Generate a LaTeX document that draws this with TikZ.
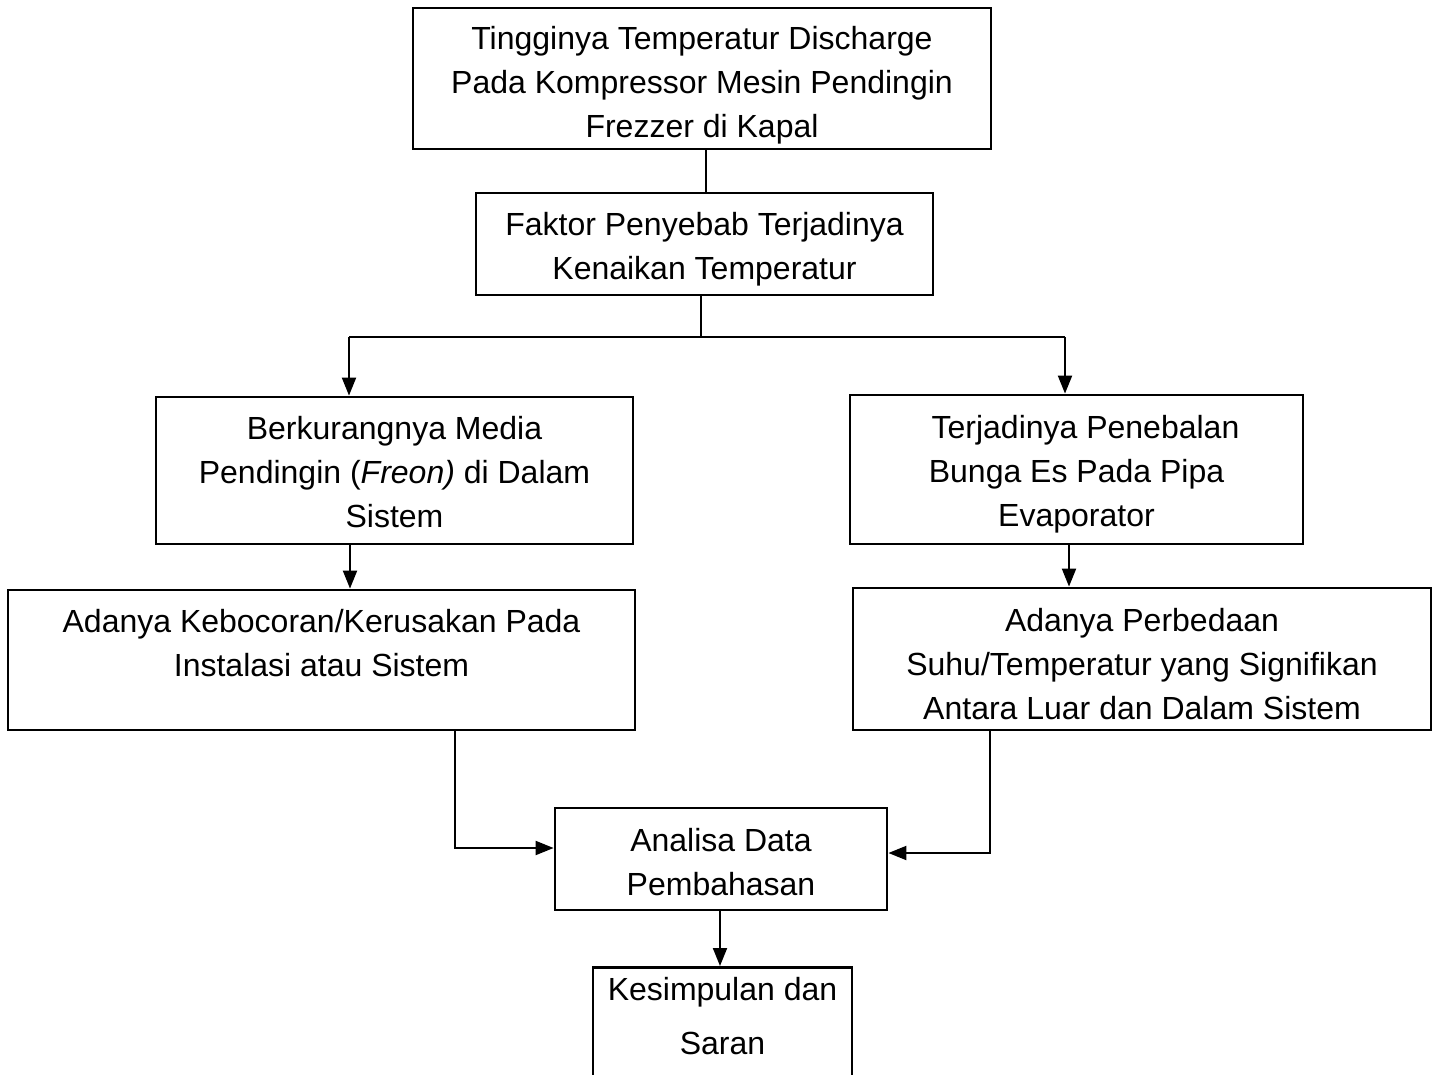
\documentclass[tikz,border=0pt]{standalone}
\usepackage{fontspec}
\setmainfont{Liberation Sans}
\usetikzlibrary{arrows.meta}
\newcommand\upstrut{\rule{0pt}{33pt}}
\begin{document}
\begin{tikzpicture}[x=1pt,y=-1pt,
  box/.style={draw,line width=2.8pt,align=center,inner sep=0pt,font=\fontsize{32}{44}\selectfont},
  conn/.style={line width=2pt},
  arr/.style={line width=2pt,-{Triangle[length=18pt,width=14pt]}}]
\useasboundingbox (0,0) rectangle (1441,1075);
\clip (0,0) rectangle (1441,1075);
\fill[white] (0,0) rectangle (1441,1075);
\node[box,minimum width=578pt,minimum height=141pt] (b1) at (702,78.5)
  {\rule{0pt}{36pt}Tingginya Temperatur Discharge\\Pada Kompressor Mesin Pendingin\\Frezzer di Kapal};
\node[box,minimum width=457pt,minimum height=102pt] (b2) at (704.5,244)
  {\upstrut Faktor Penyebab Terjadinya\\Kenaikan Temperatur};
\node[box,minimum width=477pt,minimum height=147pt] (b3) at (394.5,470.5)
  {\rule{0pt}{27pt}Berkurangnya Media\\Pendingin (\textit{Freon)} di Dalam\\Sistem};
\node[box,minimum width=453pt,minimum height=149pt] (b4) at (1076.5,469.5)
  {\upstrut\hspace*{18pt}Terjadinya Penebalan\\Bunga Es Pada Pipa\\Evaporator};
\node[box,minimum width=627pt,minimum height=140pt] (b5) at (321.5,660)
  {\upstrut Adanya Kebocoran/Kerusakan Pada\\Instalasi atau Sistem\\\mbox{}};
\node[box,minimum width=578pt,minimum height=142pt] (b6) at (1142,659)
  {\upstrut Adanya Perbedaan\\Suhu/Temperatur yang Signifikan\\Antara Luar dan Dalam Sistem};
\node[box,minimum width=332pt,minimum height=102pt] (b7) at (721,859)
  {\rule{0pt}{29pt}Analisa Data\\Pembahasan};
\node[box,minimum width=259pt,minimum height=170pt,anchor=north,text depth=74pt,font=\fontsize{32}{54}\selectfont] (b8) at (722.5,966)
  {Kesimpulan dan\\Saran};
% connectors
\coordinate (x12) at (706,0);
\draw[conn] (b1.south -| x12) -- (b2.north -| x12);
\coordinate (j) at (701,337);
\coordinate (ja) at (349,337);
\coordinate (jb) at (1065,337);
\draw[conn] (b2.south -| j) -- (j);
\draw[conn] (ja) -- (jb);
\draw[arr] (ja) -- (ja |- b3.north);
\draw[arr] (jb) -- (jb |- b4.north);
\coordinate (x35) at (350,0);
\draw[arr] (b3.south -| x35) -- (b5.north -| x35);
\coordinate (x46) at (1069,0);
\draw[arr] (b4.south -| x46) -- (b6.north -| x46);
\coordinate (l7) at (455,848);
\draw[arr] (b5.south -| l7) -- (l7) -- (l7 -| b7.west);
\coordinate (r7) at (990,853);
\draw[arr] (b6.south -| r7) -- (r7) -- (r7 -| b7.east);
\coordinate (x78) at (720,0);
\draw[arr] (b7.south -| x78) -- (b8.north -| x78);
\end{tikzpicture}
\end{document}
